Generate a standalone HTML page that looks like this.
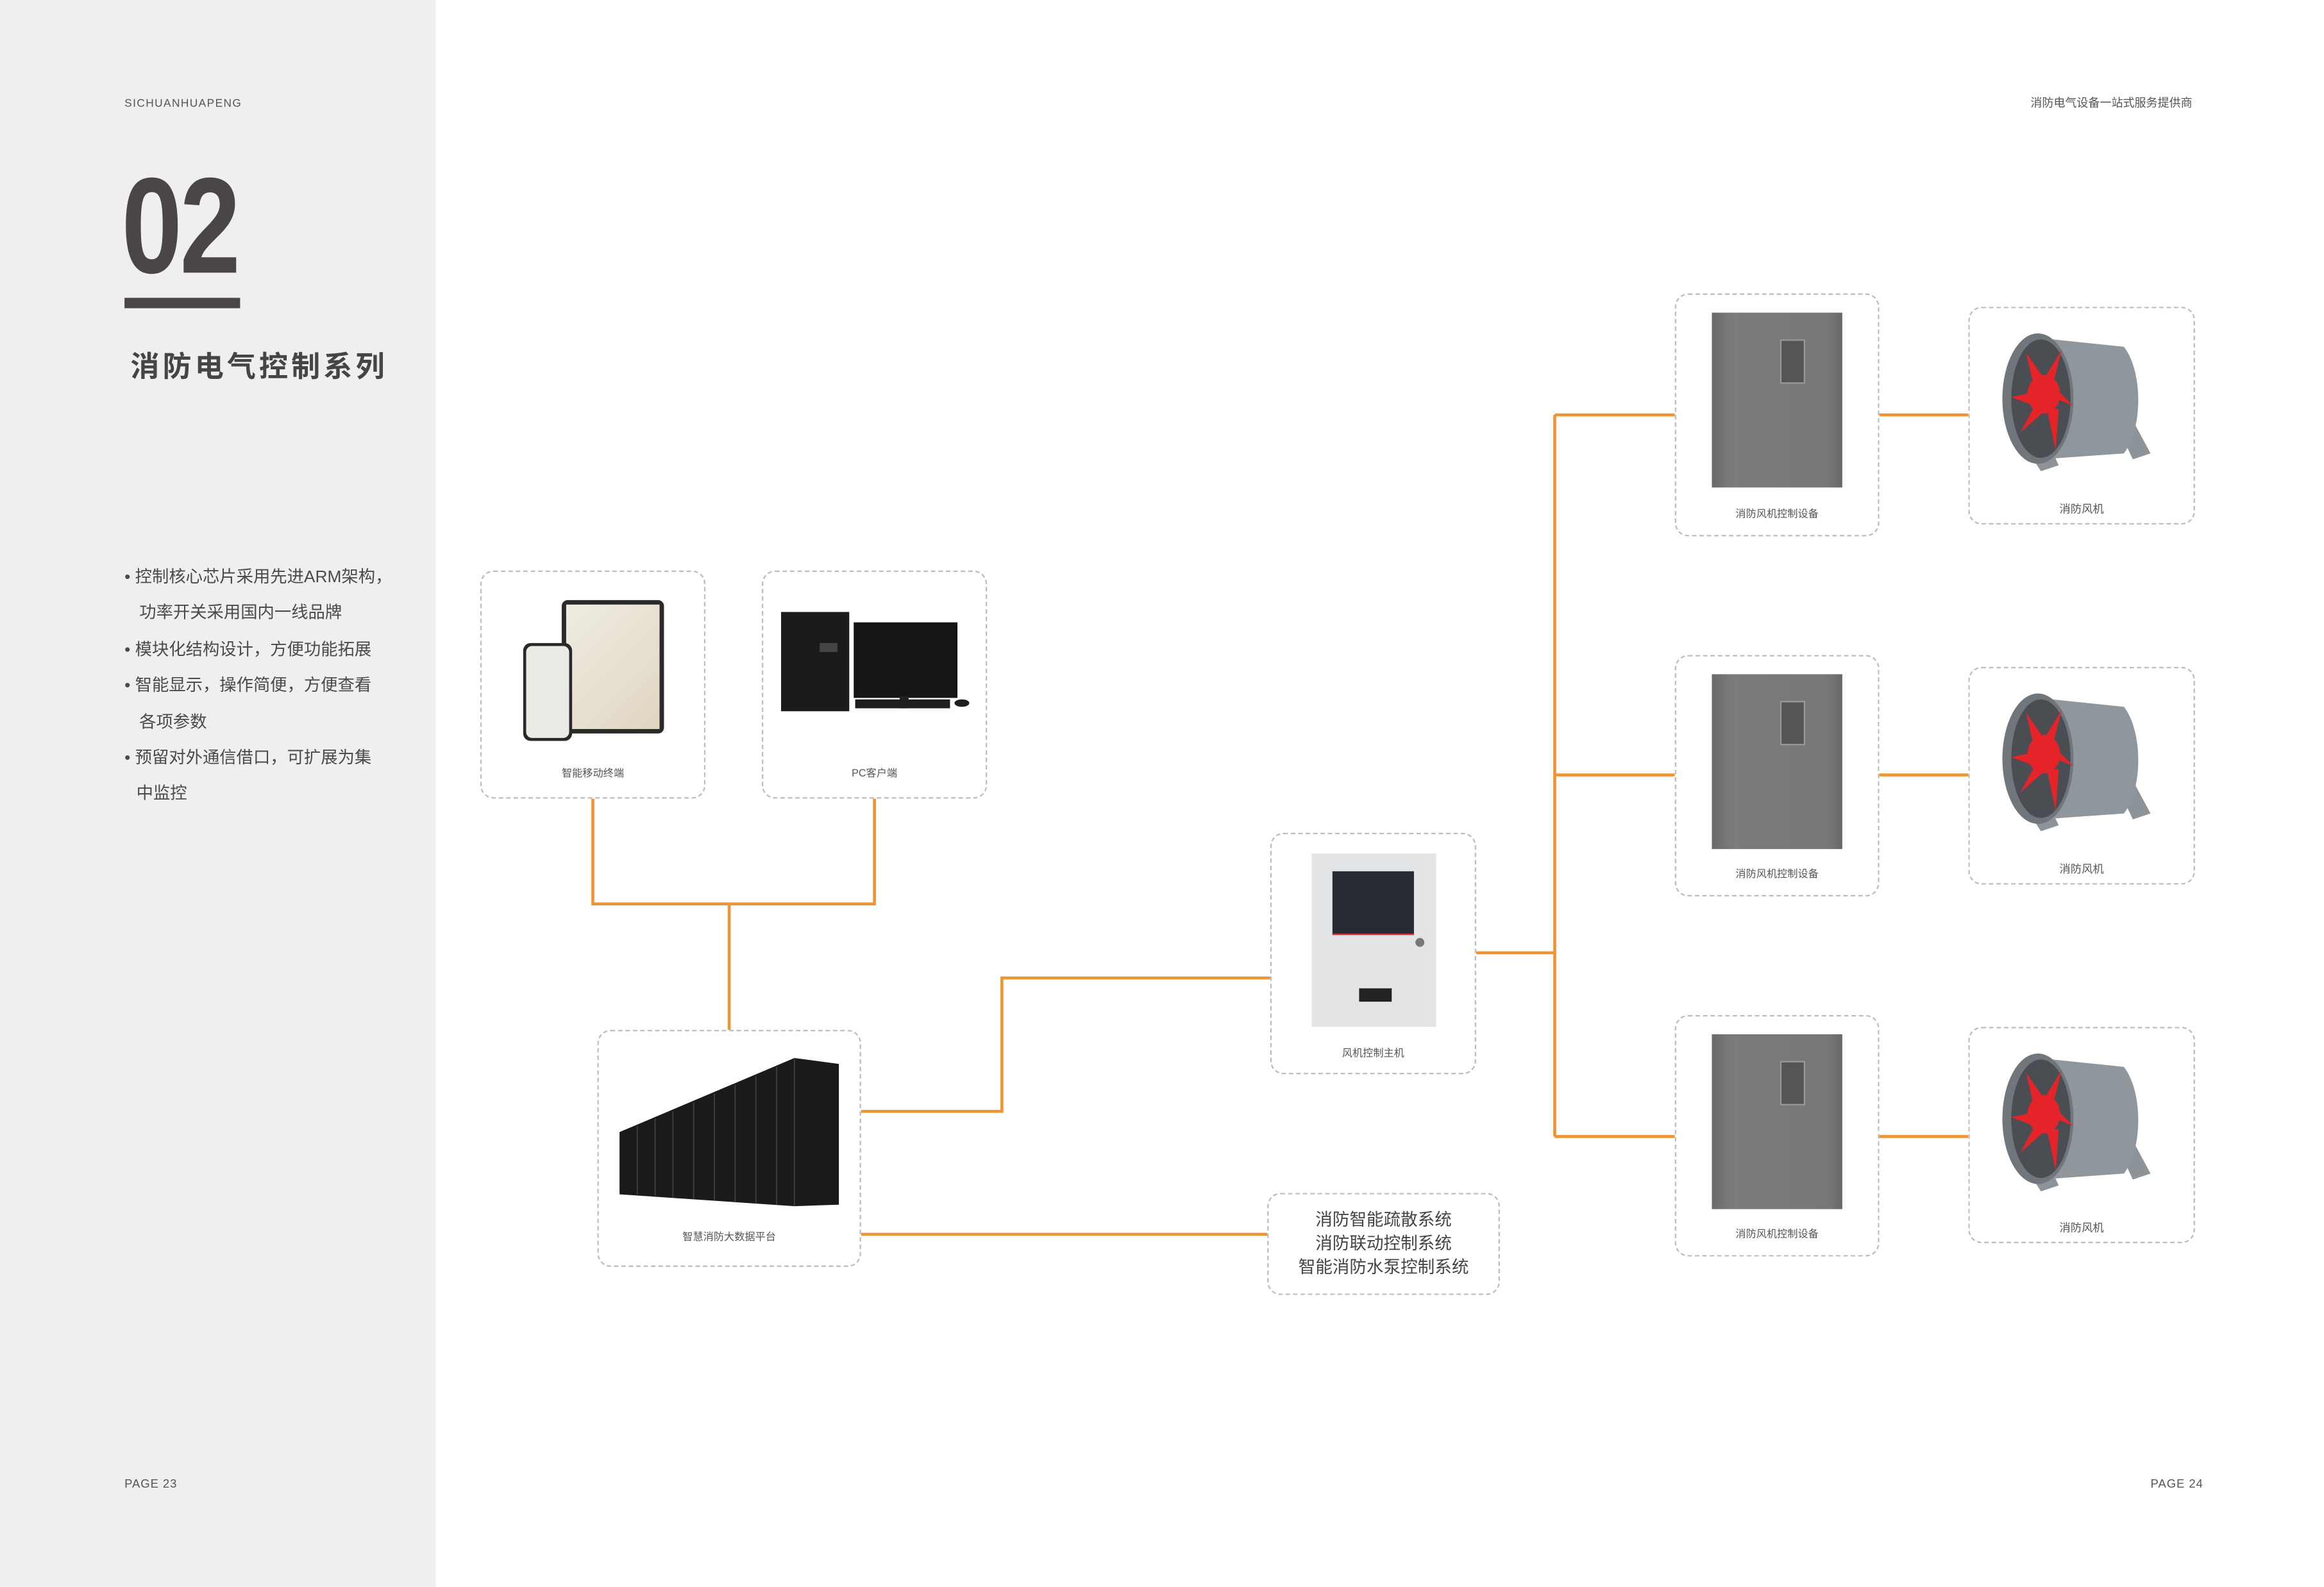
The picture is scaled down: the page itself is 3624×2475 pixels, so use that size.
<!DOCTYPE html>
<html><head><meta charset="utf-8">
<style>
html,body{margin:0;padding:0;}
body{width:3624px;height:2475px;overflow:hidden;background:#fff;position:relative;}
#s{position:absolute;left:0;top:0;width:1568px;height:1071px;transform:scale(2.3112,2.3109);transform-origin:0 0;font-family:"Liberation Sans","Noto Sans CJK SC",sans-serif;color:#444;}
.a{position:absolute;}
.box{position:absolute;border:1.2px dashed #bdbdbd;border-radius:9px;box-sizing:border-box;background:#fff;}
.lbl{position:absolute;left:0;right:0;text-align:center;font-size:7px;color:#555;}
.cab{position:absolute;background:linear-gradient(90deg,#6a6a6a,#7b7b7b 15%,#777 90%,#666);}
</style></head><body>
<div id="s">
<div class="a" style="left:0;top:0;width:294px;height:1071px;background:#efefef;"></div>
<div class="a" style="left:84px;top:65px;font-size:7.5px;letter-spacing:0.6px;color:#555;">SICHUANHUAPENG</div>
<div class="a" style="left:82px;top:107px;font-size:92px;font-weight:bold;color:#4a4645;line-height:1;transform:scaleX(0.8);transform-origin:0 0;letter-spacing:-2px;">02</div>
<div class="a" style="left:84px;top:201px;width:78px;height:7px;background:#4a4645;"></div>
<div class="a" style="left:88px;top:231px;font-size:19.5px;font-weight:bold;color:#454545;letter-spacing:2.2px;">消防电气控制系列</div>
<div class="a" style="left:84px;top:378px;font-size:11.4px;line-height:24.4px;color:#4a4a4a;">
<div>• 控制核心芯片采用先进ARM架构，</div>
<div style="padding-left:10px">功率开关采用国内一线品牌</div>
<div>• 模块化结构设计，方便功能拓展</div>
<div>• 智能显示，操作简便，方便查看</div>
<div style="padding-left:10px">各项参数</div>
<div>• 预留对外通信借口，可扩展为集</div>
<div style="padding-left:8px">中监控</div>
</div>
<div class="a" style="left:84px;top:997px;font-size:8px;color:#555;letter-spacing:0.4px;">PAGE 23</div>
<div class="a" style="left:1451px;top:997px;font-size:8px;color:#555;letter-spacing:0.4px;">PAGE 24</div>
<div class="a" style="left:1370px;top:64px;font-size:7.8px;color:#555;">消防电气设备一站式服务提供商</div>

<svg class="a" style="left:0;top:0" width="1568" height="1071">
<g stroke="#ef9433" stroke-width="2" fill="none">
<polyline points="400,539 400,610 590,610 590,539"/>
<line x1="492" y1="610" x2="492" y2="695"/>
<polyline points="581,750 676,750 676,660 857,660"/>
<line x1="581" y1="833" x2="855" y2="833"/>
<line x1="996" y1="643" x2="1049" y2="643"/>
<line x1="1049" y1="280" x2="1049" y2="767"/>
<line x1="1049" y1="280" x2="1130" y2="280"/>
<line x1="1049" y1="523" x2="1130" y2="523"/>
<line x1="1049" y1="767" x2="1130" y2="767"/>
<line x1="1268" y1="280" x2="1328" y2="280"/>
<line x1="1268" y1="523" x2="1328" y2="523"/>
<line x1="1268" y1="767" x2="1328" y2="767"/>
</g></svg>

<!-- mobile -->
<div class="box" style="left:324px;top:385px;width:152px;height:154px;">
 <div class="a" style="left:54px;top:19px;width:69px;height:90px;background:#2a2a2a;border-radius:4px;"></div>
 <div class="a" style="left:57px;top:22px;width:63px;height:84px;background:linear-gradient(135deg,#efece2,#e0d5c2);"></div>
 <div class="a" style="left:28px;top:48px;width:33px;height:66px;background:#2a2a2a;border-radius:5px;"></div>
 <div class="a" style="left:30px;top:50px;width:29px;height:62px;background:#ebebe6;border-radius:4px;"></div>
 <div class="lbl" style="top:131px;">智能移动终端</div>
</div>
<!-- pc -->
<div class="box" style="left:514px;top:385px;width:152px;height:154px;">
 <div class="a" style="left:12px;top:27px;width:46px;height:67px;background:#1b1b1b;"></div>
 <div class="a" style="left:38px;top:48px;width:12px;height:6px;background:#444;"></div>
 <div class="a" style="left:61px;top:34px;width:70px;height:51px;background:#151515;"></div>
 <div class="a" style="left:92px;top:84px;width:6px;height:8px;background:#222;"></div>
 <div class="a" style="left:62px;top:86px;width:64px;height:6px;background:#1e1e1e;"></div>
 <div class="a" style="left:129px;top:86px;width:10px;height:5px;background:#1e1e1e;border-radius:50%;"></div>
 <div class="lbl" style="top:131px;">PC客户端</div>
</div>
<!-- data platform -->
<div class="box" style="left:403px;top:695px;width:178px;height:160px;">
 <svg class="a" style="left:12px;top:12px" width="152" height="110">
  <polygon points="2,56 120,6 150,10 150,105 120,106 2,98" fill="#1a1a1a"/>
  <g stroke="#3e3e3e" stroke-width="0.8">
   <line x1="14" y1="52" x2="14" y2="98"/><line x1="26" y1="47" x2="26" y2="99"/><line x1="38" y1="42" x2="38" y2="100"/>
   <line x1="52" y1="36" x2="52" y2="101"/><line x1="66" y1="30" x2="66" y2="102"/><line x1="80" y1="24" x2="80" y2="103"/>
   <line x1="94" y1="18" x2="94" y2="104"/><line x1="108" y1="12" x2="108" y2="105"/><line x1="120" y1="6" x2="120" y2="106"/>
  </g>
 </svg>
 <div class="lbl" style="top:134px;">智慧消防大数据平台</div>
</div>
<!-- master -->
<div class="box" style="left:857px;top:562px;width:139px;height:163px;">
 <div class="a" style="left:27px;top:13px;width:84px;height:117px;background:#e3e4e6;"></div>
 <div class="a" style="left:41px;top:25px;width:55px;height:42px;background:#262a33;border-bottom:1px solid #c33;"></div>
 <div class="a" style="left:97px;top:70px;width:6px;height:6px;background:#777;border-radius:50%;"></div>
 <div class="a" style="left:59px;top:104px;width:22px;height:9px;background:#222;"></div>
 <div class="lbl" style="top:143px;">风机控制主机</div>
</div>
<!-- text box -->
<div class="box" style="left:855px;top:805px;width:157px;height:69px;">
 <div class="a" style="left:0;right:0;top:10px;text-align:center;font-size:11.5px;line-height:16px;color:#444;">消防智能疏散系统<br>消防联动控制系统<br>智能消防水泵控制系统</div>
</div>

<!-- controllers -->
<div class="box" style="left:1130px;top:198px;width:138px;height:164px;">
 <div class="cab" style="left:24px;top:12px;width:88px;height:118px;"></div>
 <div class="a" style="left:70px;top:30px;width:15px;height:28px;background:#555;border:1px solid #999;"></div>
 <div class="lbl" style="top:143px;">消防风机控制设备</div>
</div>
<div class="box" style="left:1130px;top:442px;width:138px;height:163px;">
 <div class="cab" style="left:24px;top:12px;width:88px;height:118px;"></div>
 <div class="a" style="left:70px;top:30px;width:15px;height:28px;background:#555;border:1px solid #999;"></div>
 <div class="lbl" style="top:142px;">消防风机控制设备</div>
</div>
<div class="box" style="left:1130px;top:685px;width:138px;height:163px;">
 <div class="cab" style="left:24px;top:12px;width:88px;height:118px;"></div>
 <div class="a" style="left:70px;top:30px;width:15px;height:28px;background:#555;border:1px solid #999;"></div>
 <div class="lbl" style="top:142px;">消防风机控制设备</div>
</div>

<!-- fans -->
<div class="box" style="left:1328px;top:207px;width:153px;height:147px;">
 <svg class="a" style="left:18px;top:10px" width="112" height="108">
  <polygon points="12,72 30,100 42,96 30,70" fill="#8c9499"/><polygon points="80,66 92,92 104,88 90,62" fill="#8c9499"/>
  <path d="M28,10 L86,16 A20,42 0 0 1 86,88 L30,92 Z" fill="#8f979c"/>
  <ellipse cx="28" cy="51" rx="24" ry="44" fill="#6f777c"/>
  <ellipse cx="30" cy="51" rx="20" ry="40" fill="#4a4e52"/>
  <g fill="#e5242a"><ellipse cx="32" cy="48" rx="11" ry="13"/>
  <polygon points="20,20 34,40 26,46"/><polygon points="44,18 38,42 32,38"/><polygon points="10,50 28,46 26,56"/>
  <polygon points="16,74 28,52 34,58"/><polygon points="40,86 34,58 42,58"/><polygon points="52,56 38,50 40,44"/></g>
 </svg>
 <div class="lbl" style="top:130px;font-size:7.5px;">消防风机</div>
</div>
<div class="box" style="left:1328px;top:450px;width:153px;height:147px;">
 <svg class="a" style="left:18px;top:10px" width="112" height="108">
  <polygon points="12,72 30,100 42,96 30,70" fill="#8c9499"/><polygon points="80,66 92,92 104,88 90,62" fill="#8c9499"/>
  <path d="M28,10 L86,16 A20,42 0 0 1 86,88 L30,92 Z" fill="#8f979c"/>
  <ellipse cx="28" cy="51" rx="24" ry="44" fill="#6f777c"/>
  <ellipse cx="30" cy="51" rx="20" ry="40" fill="#4a4e52"/>
  <g fill="#e5242a"><ellipse cx="32" cy="48" rx="11" ry="13"/>
  <polygon points="20,20 34,40 26,46"/><polygon points="44,18 38,42 32,38"/><polygon points="10,50 28,46 26,56"/>
  <polygon points="16,74 28,52 34,58"/><polygon points="40,86 34,58 42,58"/><polygon points="52,56 38,50 40,44"/></g>
 </svg>
 <div class="lbl" style="top:130px;font-size:7.5px;">消防风机</div>
</div>
<div class="box" style="left:1328px;top:693px;width:153px;height:146px;">
 <svg class="a" style="left:18px;top:10px" width="112" height="108">
  <polygon points="12,72 30,100 42,96 30,70" fill="#8c9499"/><polygon points="80,66 92,92 104,88 90,62" fill="#8c9499"/>
  <path d="M28,10 L86,16 A20,42 0 0 1 86,88 L30,92 Z" fill="#8f979c"/>
  <ellipse cx="28" cy="51" rx="24" ry="44" fill="#6f777c"/>
  <ellipse cx="30" cy="51" rx="20" ry="40" fill="#4a4e52"/>
  <g fill="#e5242a"><ellipse cx="32" cy="48" rx="11" ry="13"/>
  <polygon points="20,20 34,40 26,46"/><polygon points="44,18 38,42 32,38"/><polygon points="10,50 28,46 26,56"/>
  <polygon points="16,74 28,52 34,58"/><polygon points="40,86 34,58 42,58"/><polygon points="52,56 38,50 40,44"/></g>
 </svg>
 <div class="lbl" style="top:129px;font-size:7.5px;">消防风机</div>
</div>
</div>
</body></html>
